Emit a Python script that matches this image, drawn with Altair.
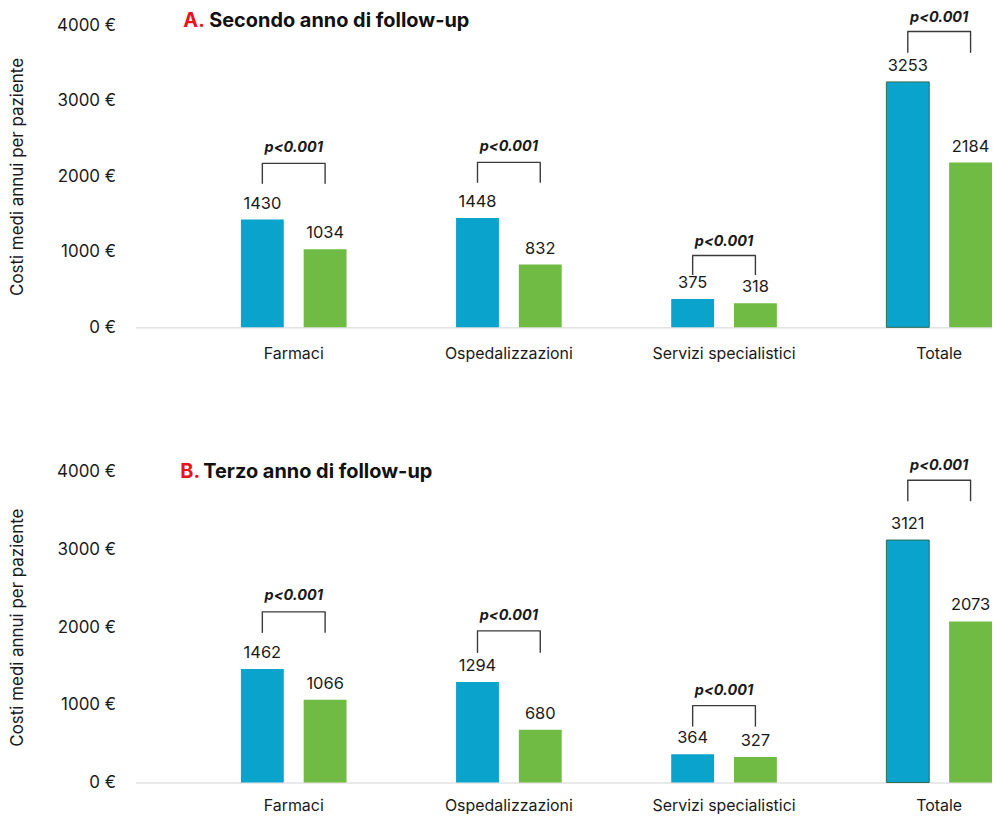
import altair as alt
import pandas as pd

categories = ["Farmaci", "Ospedalizzazioni", "Servizi specialistici", "Totale"]
groups = ["Gruppo 1", "Gruppo 2"]
group_colors = ["#0AA3CC", "#70BB43"]

a_blue = [1430, 1448, 375, 3253]
a_green = [1034, 832, 318, 2184]
b_blue = [1462, 1294, 364, 3121]
b_green = [1066, 680, 327, 2073]

p_label = "p<0.001"
a_leg_low = [1903, 1916, 694, 3639]
a_leg_high = [2173, 2186, 952, 3922]
a_p_pos = [2379, 2392, 1132, 4102]
b_leg_low = [1926, 1669, 719, 3621]
b_leg_high = [2196, 1952, 989, 3891]
b_p_pos = [2401, 2144, 1181, 4070]

title_a = ["A.", "Secondo anno di follow-up"]
title_b = ["B.", "Terzo anno di follow-up"]
y_ticks = [0, 1000, 2000, 3000, 4000]
y_title = "Costi medi annui per paziente"

FONT = "Inter"
TXT = "#1a1a1a"
BRACKET = "#3a3a3a"


def panel(blue, green, low, high, ppos, title, height, tx, tdx, ty, xlab_pad):
    bars = pd.DataFrame({
        "cat": categories * 2,
        "grp": [groups[0]] * 4 + [groups[1]] * 4,
        "val": blue + green,
    })
    legs = pd.DataFrame({
        "cat": categories * 2,
        "grp": [groups[0]] * 4 + [groups[1]] * 4,
        "low": low * 2,
        "high": high * 2,
    })
    tops = pd.DataFrame({"cat": categories, "high": high, "ppos": ppos,
                         "p": [p_label] * 4})
    tdf = pd.DataFrame({"a": [title[0]], "b": [title[1]]})

    xscale = alt.Scale(domain=categories, paddingInner=0.509, paddingOuter=0.245, align=1)
    yscale = alt.Scale(domain=[0, 4000], nice=False)
    xo = alt.XOffset("grp:N", sort=groups,
                     scale=alt.Scale(domain=groups, paddingInner=0.317, paddingOuter=0))
    x_main = alt.X("cat:N", sort=categories, scale=xscale, title=None,
                   axis=alt.Axis(ticks=False, domainColor="#d4d4d4", domainWidth=1,
                                 labelAngle=0, labelFontSize=16, labelColor=TXT,
                                 labelPadding=xlab_pad, labelFont=FONT))
    x_plain = alt.X("cat:N", sort=categories, scale=xscale)

    b = alt.Chart(bars).mark_bar(stroke="#2f6b55").encode(
        x=x_main,
        xOffset=xo,
        y=alt.Y("val:Q", scale=yscale, title=y_title,
                axis=alt.Axis(values=y_ticks, labelExpr="datum.value + ' €'",
                              grid=False, ticks=False, domain=False,
                              labelFontSize=17, labelColor=TXT, labelPadding=20,
                              titleFontSize=17, titleFontWeight="normal",
                              titleColor=TXT, titlePadding=30, labelFont=FONT,
                              titleFont=FONT)),
        color=alt.Color("grp:N", scale=alt.Scale(domain=groups, range=group_colors),
                        legend=None),
        strokeWidth=alt.condition("datum.cat == 'Totale' && datum.grp == 'Gruppo 1'",
                                  alt.value(1), alt.value(0)),
    )
    lbl = alt.Chart(bars).mark_text(dy=-16, baseline="middle", fontSize=16.5,
                                    font=FONT, color=TXT).encode(
        x=x_plain, xOffset=xo,
        y=alt.Y("val:Q", scale=yscale),
        text=alt.Text("val:Q", format="d"),
    )
    leg = alt.Chart(legs).mark_rule(color=BRACKET, strokeWidth=1.4).encode(
        x=x_plain, xOffset=xo,
        y=alt.Y("low:Q", scale=yscale),
        y2="high:Q",
    )
    top = alt.Chart(tops).mark_tick(orient="horizontal", size=64, thickness=1.4,
                                    color=BRACKET, opacity=1).encode(
        x=x_plain,
        y=alt.Y("high:Q", scale=yscale),
    )
    ptxt = alt.Chart(tops).mark_text(fontSize=14.5, fontWeight="bold", fontStyle="italic",
                                     font=FONT, color=TXT, baseline="middle").encode(
        x=x_plain,
        y=alt.Y("ppos:Q", scale=yscale),
        text="p:N",
    )
    t1 = alt.Chart(tdf).mark_text(align="left", baseline="middle", fontSize=20,
                                  fontWeight="bold", font=FONT, color="#e8141c").encode(
        x=alt.value(tx), y=alt.value(ty), text="a:N")
    t2 = alt.Chart(tdf).mark_text(align="left", baseline="middle", fontSize=20,
                                  fontWeight="bold", font=FONT, color="#111111").encode(
        x=alt.value(tx + tdx), y=alt.value(ty), text="b:N")

    return alt.layer(b, lbl, leg, top, ptxt, t1, t2).properties(width=860, height=height)


pa = panel(a_blue, a_green, a_leg_low, a_leg_high, a_p_pos, title_a, 303, 48, 26, -5, 18)
pb = panel(b_blue, b_green, b_leg_low, b_leg_high, b_p_pos, title_b, 312, 45, 23, 0, 15)

chart = alt.vconcat(pa, pb, spacing=97).properties(
    padding={"left": 0, "top": 0, "right": 0, "bottom": 0}
).configure(font=FONT).configure_view(stroke=None)

chart.save("out.html", embed_options={"renderer": "svg", "actions": False})
